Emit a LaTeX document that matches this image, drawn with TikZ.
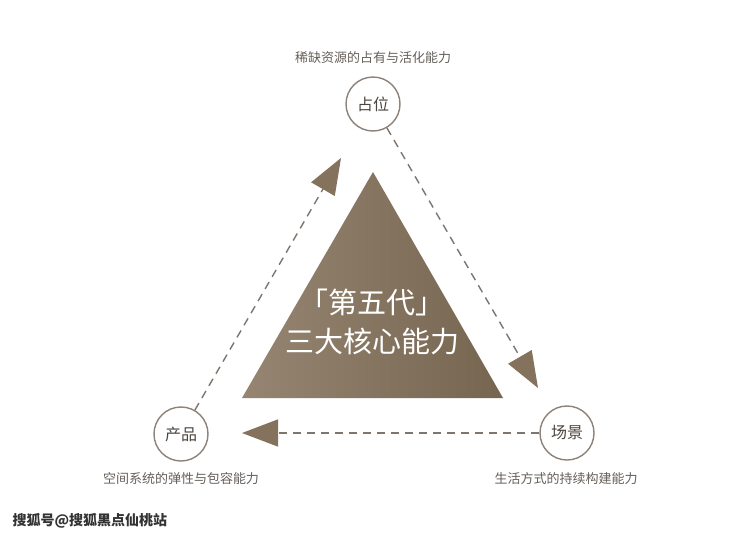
\documentclass[tikz,border=0pt]{standalone}
\usepackage{fontspec}
\newfontfamily\cjk{Noto Sans CJK SC}
\usetikzlibrary{arrows.meta}
\definecolor{tribrownL}{HTML}{958572}
\definecolor{tribrownR}{HTML}{76654F}
\definecolor{tipbrown}{HTML}{84725D}
\definecolor{dashgray}{HTML}{7D756E}
\definecolor{ringgray}{HTML}{8C827A}
\definecolor{textgray}{HTML}{66605A}
\definecolor{darkgray}{HTML}{4B4540}

\begin{document}
\begin{tikzpicture} [x = 1pt, y = -1pt,
  ringnode/.style = {circle, draw = ringgray, line width = 1.4pt, minimum size = 54pt, inner sep = 0pt,
    text = darkgray, font = \cjk\fontsize{16}{18}\selectfont},
  notetext/.style = {text = textgray, font = \cjk\fontsize{13}{15}\selectfont},
  dashline/.style = {draw = dashgray, line width = 1.4pt, dash pattern = on 8pt off 6pt,
    -{Triangle[length = 36pt, width = 27pt, color = tipbrown]}}]
\useasboundingbox (0, 0) rectangle (740, 536);
\fill[white] (0, 0) rectangle (740, 536);
% central triangle
\shade[left color = tribrownL, right color = tribrownR] (373, 172) -- (503, 398) -- (242, 398) -- cycle;
\node[align = center, text = white, font = \cjk\fontsize{29}{39}\selectfont] (core) at (372, 322) {「第五代」\\三大核心能力};
% three abilities
\node[ringnode] (zhanwei) at (373, 104) {占位};
\node[ringnode] (chanpin) at (181, 434) {产品};
\node[ringnode] (changjing) at (567, 433) {场景};
\node[notetext] (zhanweinote) at (373, 58) {稀缺资源的占有与活化能力};
\node[notetext] (chanpinnote) at (181, 479) {空间系统的弹性与包容能力};
\node[notetext] (changjingnote) at (566, 479) {生活方式的持续构建能力};
% arrows round the triangle
\coordinate (tipL) at (341, 158);
\coordinate (tipR) at (538, 388);
\coordinate (tipB) at (242, 433);
\draw[dashline] (chanpin) -- (tipL);
\draw[dashline] (zhanwei) -- (tipR);
\draw[dashline] (changjing) -- (tipB);
\node[anchor = west, text = black!80, font = \cjk\bfseries\fontsize{14}{16}\selectfont] (sohu) at (9, 521) {搜狐号@搜狐黑点仙桃站};
\end{tikzpicture}
\end{document}
